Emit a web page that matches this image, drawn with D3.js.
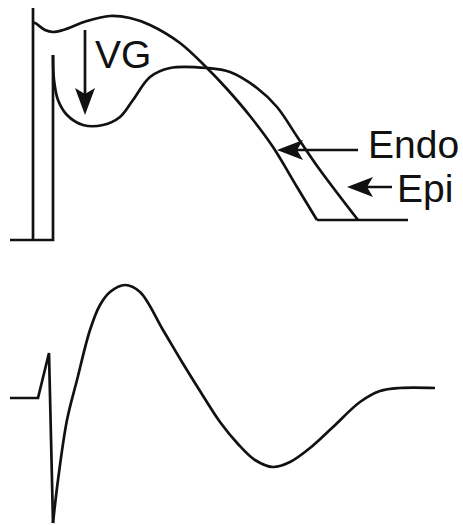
<!DOCTYPE html>
<html><head><meta charset="utf-8">
<script src="https://cdn.jsdelivr.net/npm/d3@7"></script>
<style>html,body{margin:0;padding:0;background:#fff;}svg{display:block;}</style>
</head><body>
<svg id="c" width="463" height="526"></svg>
<script>
// Time (ms, arbitrary) and amplitude (arbitrary units)
const endoUpstroke = [[23,0],[23,232],[23,217]];
const endoPlateau = [[23,217],[25,217],[35,210],[43,208],[53,210],[77,219],[100,224],[120,222],[140,215],[170,197],[197,172],[217,151],[240,124],[263,93],[287,53],[307,20]];
const epiUpstroke = [[0,0],[43,0],[43,185]];
const epiPlateau = [[43,185],[44,160],[48,140],[57,125],[73,115],[93,115],[110,123],[123,140],[140,163],[160,172],[197,172],[220,168],[247,152],[267,133],[288,102],[310,70],[348,20]];
const restLine = [[307,20],[398,20]];
const ecgQRS = [[0,0],[28,0],[39,45],[43,-125]];
const ecgWave = [[43,-125],[48,-82],[57,-22],[67,18],[80,68],[90,93],[100,106],[115,113],[130,106],[153,68],[172,36],[190,7],[210,-24],[228,-46],[245,-62],[263,-69],[280,-64],[300,-50],[323,-29],[350,-4],[370,7],[390,10],[425,10]];
const labels = [{text:"VG",t:85,v:172},{text:"Endo",t:358,v:82},{text:"Epi",t:387,v:38}];
const arrowsH = [{t0:348,t1:267,v:90},{t0:382,t1:337,v:53}];
const arrowV = {t:75,v0:210,v1:125};

const svg = d3.select("#c");
const x = d3.scaleLinear().domain([0,450]).range([10,460]);
const yAP = d3.scaleLinear().domain([0,232]).range([240,8]);
const yECG = d3.scaleLinear().domain([-125,113]).range([523,285]);

const stroke = "#111";
function draw(data, y, curve){
  svg.append("path").datum(data)
    .attr("d", d3.line().x(d=>x(d[0])).y(d=>y(d[1])).curve(curve))
    .attr("fill","none").attr("stroke",stroke).attr("stroke-width",2.7)
    .attr("stroke-linejoin","miter").attr("stroke-linecap","butt");
}
draw(endoUpstroke, yAP, d3.curveLinear);
draw(endoPlateau, yAP, d3.curveCatmullRom.alpha(0.5));
draw(epiUpstroke, yAP, d3.curveLinear);
draw(epiPlateau, yAP, d3.curveCatmullRom.alpha(0.5));
draw(restLine, yAP, d3.curveLinear);
draw(ecgQRS, yECG, d3.curveLinear);
draw(ecgWave, yECG, d3.curveCatmullRom.alpha(0.5));

// horizontal arrows
arrowsH.forEach(a=>{
  const tip = x(a.t1), yy = yAP(a.v), end = x(a.t0);
  svg.append("line").attr("x1",end).attr("x2",tip+10).attr("y1",yy).attr("y2",yy)
    .attr("stroke",stroke).attr("stroke-width",2.7);
  svg.append("path").attr("d",`M${tip},${yy} L${tip+26},${yy-10} L${tip+20},${yy} L${tip+26},${yy+10} Z`)
    .attr("fill",stroke);
});
// vertical arrow (VG)
{
  const xx = x(arrowV.t), y0 = yAP(arrowV.v0), tip = yAP(arrowV.v1);
  svg.append("line").attr("x1",xx).attr("x2",xx).attr("y1",y0).attr("y2",tip-10)
    .attr("stroke",stroke).attr("stroke-width",2.7);
  svg.append("path").attr("d",`M${xx},${tip} L${xx-10},${tip-27} L${xx},${tip-21} L${xx+10},${tip-27} Z`)
    .attr("fill",stroke);
}
svg.selectAll("text.lbl").data(labels).enter().append("text")
  .attr("x",d=>x(d.t)).attr("y",d=>yAP(d.v)).text(d=>d.text)
  .attr("font-family","'Liberation Sans', Arial, Helvetica, sans-serif")
  .attr("font-size",39).attr("fill",stroke);
</script>
</body></html>
